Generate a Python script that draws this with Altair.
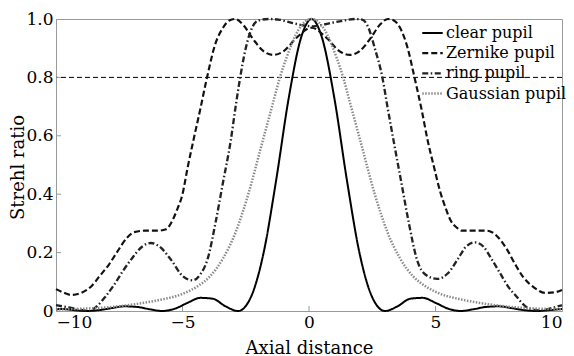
import altair as alt
import pandas as pd

# ---- data ----
clear_x = [-10.0, -9.8, -9.3, -8.8, -8.3, -7.8, -7.3, -6.8, -6.3, -5.8, -5.3, -4.8, -4.3, -3.8, -3.3, -2.8,
           -2.3, -1.8, -1.3, -0.8, -0.3, 0.1, 0.5, 1.0, 1.5, 2.0, 2.5, 3.0, 3.5, 4.0, 4.5, 5.0, 5.5,
           6.0, 6.5, 7.0, 7.5, 8.0, 8.5, 9.0, 9.5, 10.0]
clear_y = [0.005, 0.007, 0.003, 0.0, 0.003, 0.010, 0.016, 0.014, 0.006, 0.0, 0.008, 0.028, 0.045, 0.042,
           0.016, 0.0, 0.047, 0.197, 0.447, 0.73, 0.94, 1.0, 0.94, 0.73, 0.447, 0.197, 0.047, 0.0,
           0.016, 0.042, 0.045, 0.028, 0.008, 0.0, 0.006, 0.014, 0.016, 0.010, 0.003, 0.0, 0.003, 0.007]

zern_x = [-10.0, -9.7, -9.4, -9.0, -8.6, -8.3, -7.9, -7.6, -7.2, -6.9, -6.5, -6.0, -5.65, -5.4, -5.2,
          -5.0, -4.8, -4.58, -4.3, -4.03, -3.72, -3.4, -3.15, -2.92, -2.6, -2.2, -1.8, -1.42, -1.0,
          -0.5, 0.1, 0.7, 1.2, 1.62, 2.0, 2.4, 2.8, 3.12, 3.35, 3.6, 3.9, 4.17, 4.45, 4.7, 4.95,
          5.18, 5.37, 5.6, 5.85, 6.05, 6.5, 7.0, 7.23, 7.5, 7.83, 8.15, 8.46, 8.9, 9.33, 9.7, 10.0]
zern_y = [0.075, 0.063, 0.055, 0.062, 0.085, 0.117, 0.16, 0.2, 0.25, 0.27, 0.275, 0.275, 0.28, 0.31,
          0.35, 0.40, 0.49, 0.58, 0.69, 0.8, 0.91, 0.97, 0.995, 1.0, 0.98, 0.93, 0.89, 0.877, 0.89,
          0.935, 0.97, 0.935, 0.89, 0.877, 0.89, 0.93, 0.98, 1.0, 0.995, 0.97, 0.9, 0.8, 0.69, 0.58,
          0.49, 0.41, 0.36, 0.31, 0.285, 0.275, 0.275, 0.275, 0.27, 0.25, 0.21, 0.16, 0.117, 0.08,
          0.062, 0.064, 0.072]

ring_x = [-10.0, -9.5, -9.0, -8.7, -8.4, -8.04, -7.7, -7.37, -7.0, -6.6, -6.25, -5.9, -5.45, -5.0,
          -4.6, -4.3, -4.0, -3.7, -3.4, -3.1, -2.9, -2.72, -2.5, -2.25, -2.0, -1.6, -1.2, -0.6, 0.15,
          0.8, 1.4, 1.8, 2.1, 2.35, 2.6, 2.9, 3.1, 3.35, 3.65, 3.95, 4.27, 4.6, 5.06, 5.5, 5.9, 6.2,
          6.56, 6.9, 7.2, 7.55, 7.9, 8.22, 8.5, 8.85, 9.2, 9.6, 10.0]
ring_y = [0.02, 0.012, 0.004, 0.0, 0.015, 0.05, 0.09, 0.135, 0.18, 0.22, 0.233, 0.22, 0.175, 0.12,
          0.105, 0.125, 0.18, 0.30, 0.44, 0.58, 0.70, 0.80, 0.90, 0.97, 0.995, 1.0, 0.998, 0.985,
          0.975, 0.985, 0.995, 1.0, 0.998, 0.97, 0.90, 0.80, 0.70, 0.58, 0.44, 0.30, 0.175, 0.125,
          0.11, 0.13, 0.18, 0.22, 0.235, 0.22, 0.18, 0.13, 0.08, 0.048, 0.02, 0.005, 0.002, 0.01, 0.02]

gauss_x = [-10.0, -8.9, -7.9, -6.9, -5.9, -4.9, -4.4, -3.9, -3.4, -2.9, -2.4, -1.9, -1.4, -1.15,
           -0.9, -0.4, 0.1, 0.6, 1.1, 1.35, 1.6, 2.1, 2.6, 3.1, 3.6, 4.1, 4.6, 5.1, 6.1, 7.1, 8.1,
           9.1, 10.0]
gauss_y = [0.005, 0.008, 0.013, 0.023, 0.038, 0.062, 0.085, 0.12, 0.18, 0.27, 0.40, 0.56, 0.72, 0.8,
           0.865, 0.965, 1.0, 0.965, 0.865, 0.8, 0.72, 0.56, 0.40, 0.27, 0.18, 0.12, 0.085, 0.062,
           0.038, 0.023, 0.013, 0.008, 0.006]

series_names = ["clear pupil", "Zernike pupil", "ring pupil", "Gaussian pupil"]
ref_level = [0.8]
x_tick_values = [-10, -5, 0, 5, 10]
y_tick_values = [0, 0.2, 0.4, 0.6, 0.8, 1.0]

rows = []
for name, xs, ys in zip(series_names, [clear_x, zern_x, ring_x, gauss_x],
                        [clear_y, zern_y, ring_y, gauss_y]):
    for i, (a, b) in enumerate(zip(xs, ys)):
        rows.append({"series": name, "x": a, "y": b, "order": i})
df = pd.DataFrame(rows)

W, H = 506, 292
FONT = "DejaVu Serif"

xscale = alt.Scale(domain=[-10, 10], nice=False, zero=False)
yscale = alt.Scale(domain=[0, 1], nice=False, zero=False)

lines = alt.Chart(df).mark_line(interpolate="monotone").encode(
    x=alt.X("x:Q", scale=xscale, title="Axial distance",
            axis=alt.Axis(values=x_tick_values, ticks=False, grid=False, labelPadding=3,
                          labelExpr="datum.value < 0 ? '\u2212' + abs(datum.value) : datum.value",
                          titleY=42, titleBaseline="alphabetic")),
    y=alt.Y("y:Q", scale=yscale, title="Strehl ratio",
            axis=alt.Axis(values=y_tick_values, ticks=False, grid=False, labelPadding=3,
                          labelExpr="datum.value == 0 ? '0' : format(datum.value, '.1f')",
                          titleX=-38, titleY=148, titleAngle=-90, titleAlign="center",
                          titleBaseline="middle")),
    detail="series:N",
    order="order:Q",
    color=alt.Color("series:N", sort=series_names,
                    scale=alt.Scale(domain=series_names,
                                    range=["#000000", "#111111", "#222222", "#8a8a8a"]),
                    legend=alt.Legend(title=None, orient="none", legendX=365, legendY=2.5,
                                      symbolType="stroke", symbolSize=420, symbolStrokeWidth=2,
                                      labelFont=FONT, labelFontSize=16, labelColor="#000",
                                      labelOffset=2, rowPadding=0.2, padding=0,
                                      labelLimit=200)),
    strokeDash=alt.StrokeDash("series:N", sort=series_names,
                              scale=alt.Scale(domain=series_names,
                                              range=[[1, 0], [6, 3], [6, 2.5, 1.5, 2.5], [1.5, 1.5]]),
                              legend=None),
    strokeWidth=alt.StrokeWidth("series:N", sort=series_names,
                                scale=alt.Scale(domain=series_names, range=[2.0, 2.5, 2.0, 1.5]),
                                legend=None),
)

ref = alt.Chart(pd.DataFrame({"y": ref_level})).mark_rule(
    color="#000", strokeWidth=1, strokeDash=[5, 3]
).encode(y=alt.Y("y:Q", scale=yscale))

xt = alt.Chart(pd.DataFrame({"t": x_tick_values[1:-1]})).mark_rule(color="#999", strokeWidth=1).encode(
    x=alt.X("t:Q", scale=xscale), y=alt.value(H), y2=alt.value(H - 5))
yt = alt.Chart(pd.DataFrame({"t": y_tick_values[1:-1]})).mark_rule(color="#999", strokeWidth=1).encode(
    y=alt.Y("t:Q", scale=yscale), x=alt.value(0), x2=alt.value(5))

chart = alt.layer(ref, xt, yt, lines).properties(
    width=W, height=H,
    autosize=alt.AutoSizeParams(type="none"),
    padding={"left": 56, "top": 19, "right": 12, "bottom": 45},
    background="white",
).configure_view(
    stroke="#9a9a9a", strokeWidth=1
).configure_axis(
    domainColor="#9a9a9a", domainWidth=1,
    labelFont=FONT, labelFontSize=17, labelColor="#000",
    titleFont=FONT, titleFontSize=18, titleFontWeight="normal", titleColor="#000",
)

chart.save("out.html", embed_options={"renderer": "svg", "actions": False})
